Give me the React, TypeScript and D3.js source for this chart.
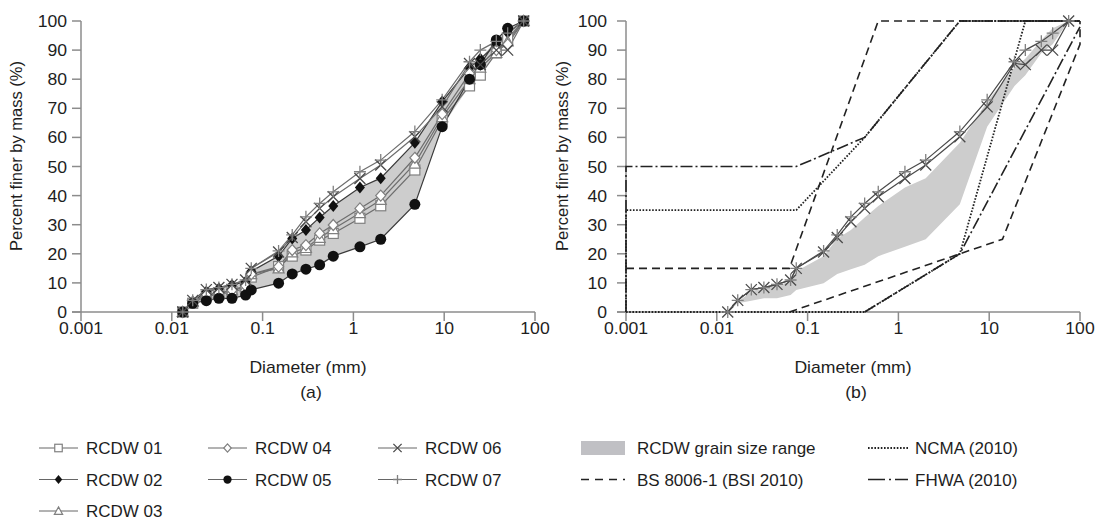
import React from 'react';
import * as d3 from 'd3';

// sieve sizes (mm) and percent passing for each sample
const sieve = [0.0132, 0.017, 0.024, 0.033, 0.046, 0.065, 0.075, 0.15, 0.212, 0.3, 0.425, 0.6, 1.18, 2, 4.75, 9.5, 19, 25, 37.5, 50, 75];
const rcdw01 = [0, 3, 5.5, 6, 7, 8, 12, 15.6, 19.2, 21.3, 24.7, 27, 32.2, 36.5, 48.8, 66, 77.7, 81.4, 89, 94, 100];
const rcdw02 = [0, 3.5, 7, 8.1, 9.3, 10.4, 14, 19.2, 25.3, 28.2, 32.5, 36.4, 42.8, 46, 58.2, 72.3, 84, 87, 92, 96, 100];
const rcdw03 = [0, 3.5, 6, 6.5, 7.5, 8.5, 13, 15, 20.5, 22, 25.5, 28.5, 34, 38.5, 51, 67, 80, 84, 89, 93, 100];
const rcdw04 = [0, 3.5, 6, 6.5, 7.5, 9, 13, 15.6, 21.3, 23, 27, 29.9, 35.6, 40, 53, 68, 82, 85, 90, 92, 100];
const rcdw05 = [0, 3, 3.9, 4.7, 4.7, 5.8, 7.6, 9.9, 13.1, 14.7, 16.2, 19.2, 22.4, 25, 37, 63.7, 80, 85, 93.5, 97.5, 100];
const rcdw06 = [0, 4, 7.7, 8.4, 9.5, 11, 15, 20.6, 25.6, 31, 35.6, 39.6, 45.9, 50.5, 60.2, 70.5, 85.4, 85, 90, 90, 100];
const rcdw07 = [0, 4, 7.7, 8.4, 9.5, 11, 15, 21, 26.5, 32.7, 37.3, 41.3, 48.2, 52.2, 62, 72.9, 86, 90, 93, 95.8, 100];

// grading envelopes (size mm, percent)
const bsUpperD = [0.001, 0.063, 0.6, 100];
const bsUpperP = [15, 15, 100, 100];
const bsLowerD = [0.063, 14, 100, 100];
const bsLowerP = [0, 25, 92, 100];
const ncmaUpperD = [0.001, 0.001, 0.075, 0.425, 4.75, 100];
const ncmaUpperP = [0, 35, 35, 60, 100, 100];
const ncmaLowerD = [0.001, 0.425, 4.75, 25, 100];
const ncmaLowerP = [0, 0, 20, 100, 100];
const fhwaUpperD = [0.001, 0.001, 0.075, 0.425, 4.75, 100];
const fhwaUpperP = [0, 50, 50, 60, 100, 100];
const fhwaLowerD = [0.425, 4.75, 100];
const fhwaLowerP = [0, 20, 98];

const xTicks = [0.001, 0.01, 0.1, 1, 10, 100];
const xTickLabels = ['0.001', '0.01', '0.1', '1', '10', '100'];
const yTicks = [0, 10, 20, 30, 40, 50, 60, 70, 80, 90, 100];

const FONT = '"Liberation Sans", Arial, sans-serif';
const AXIS = '#8c8c8c';
const BAND = '#cdcdcd';

const series = [
  { name: 'RCDW 01', vals: rcdw01, sym: 'square', color: '#808080' },
  { name: 'RCDW 02', vals: rcdw02, sym: 'diamond', color: '#111' },
  { name: 'RCDW 03', vals: rcdw03, sym: 'triangle', color: '#808080' },
  { name: 'RCDW 04', vals: rcdw04, sym: 'odiamond', color: '#808080' },
  { name: 'RCDW 05', vals: rcdw05, sym: 'circle', color: '#111' },
  { name: 'RCDW 06', vals: rcdw06, sym: 'cross', color: '#4a4a4a' },
  { name: 'RCDW 07', vals: rcdw07, sym: 'plus', color: '#808080' },
];

const Marker = ({ x, y, sym, color, s = 1 }) => {
  const k = s;
  switch (sym) {
    case 'square':
      return <rect x={x - 5 * k} y={y - 5 * k} width={10 * k} height={10 * k} fill="white" stroke={color} strokeWidth={1.2} />;
    case 'diamond':
      return <path d={`M${x},${y - 6 * k}L${x + 5 * k},${y}L${x},${y + 6 * k}L${x - 5 * k},${y}Z`} fill={color} />;
    case 'odiamond':
      return <path d={`M${x},${y - 5.5 * k}L${x + 5 * k},${y}L${x},${y + 5.5 * k}L${x - 5 * k},${y}Z`} fill="white" stroke={color} strokeWidth={1.2} />;
    case 'triangle':
      return <path d={`M${x},${y - 5.5 * k}L${x + 5.5 * k},${y + 4.5 * k}L${x - 5.5 * k},${y + 4.5 * k}Z`} fill="white" stroke={color} strokeWidth={1.2} />;
    case 'circle':
      return <circle cx={x} cy={y} r={5.5 * k} fill={color} />;
    case 'cross':
      return <path d={`M${x - 5.5 * k},${y - 5.5 * k}L${x + 5.5 * k},${y + 5.5 * k}M${x - 5.5 * k},${y + 5.5 * k}L${x + 5.5 * k},${y - 5.5 * k}`} stroke={color} strokeWidth={1.3} />;
    case 'plus':
      return <path d={`M${x - 6 * k},${y}L${x + 6 * k},${y}M${x},${y - 6 * k}L${x},${y + 6 * k}`} stroke={color} strokeWidth={1.3} />;
    default:
      return null;
  }
};

const Txt = ({ x, y, anchor = 'middle', size = 16, sx = 1.1, rot = false, children }) => (
  <text
    transform={`translate(${x},${y})${rot ? ' rotate(-90)' : ''} scale(${sx},1)`}
    textAnchor={anchor}
    fontFamily={FONT}
    fontSize={size}
    fill="#1e1e1e"
  >
    {children}
  </text>
);

const Axes = ({ x, y, labelRight, titleX, tag }) => {
  const [x0, x1] = x.range();
  const y0 = y(0);
  return (
    <g>
      <line x1={x0} x2={x0} y1={y(100)} y2={y0} stroke={AXIS} strokeWidth={1.5} />
      <line x1={x0 - 9} x2={x1} y1={y0} y2={y0} stroke={AXIS} strokeWidth={1.5} />
      {yTicks.map((t) => (
        <g key={'y' + t}>
          <line x1={x0 - 9} x2={x0} y1={y(t)} y2={y(t)} stroke={AXIS} strokeWidth={1.5} />
          <Txt x={x0 - labelRight} y={y(t) + 6} anchor="end">{t}</Txt>
        </g>
      ))}
      {xTicks.map((t, i) => (
        <g key={'x' + t}>
          <line x1={x(t)} x2={x(t)} y1={y0} y2={y0 + 9} stroke={AXIS} strokeWidth={1.5} />
          <Txt x={x(t)} y={334}>{xTickLabels[i]}</Txt>
        </g>
      ))}
      <Txt x={(x0 + x1) / 2} y={373}>Diameter (mm)</Txt>
      <Txt x={(x0 + x1) / 2 + 3} y={398}>{tag}</Txt>
      <Txt x={titleX} y={156} rot sx={1} size={16.5}>Percent finer by mass (%)</Txt>
    </g>
  );
};

const App = () => {
  const y = d3.scaleLinear().domain([0, 100]).range([312, 21]);
  const xa = d3.scaleLog().domain([0.001, 100]).range([81, 535]);
  const xb = d3.scaleLog().domain([0.001, 100]).range([626, 1080]);

  const band = (x) =>
    d3.area()
      .x((_, i) => x(sieve[i]))
      .y0((_, i) => y(Math.min(rcdw01[i], rcdw02[i], rcdw03[i], rcdw04[i], rcdw05[i])))
      .y1((_, i) => y(Math.max(rcdw01[i], rcdw02[i], rcdw03[i], rcdw04[i], rcdw05[i])))(sieve);

  const line = (x, vals) => d3.line().x((_, i) => x(sieve[i])).y((v) => y(v))(vals);
  const guide = (ds, ps) => d3.line().x((d) => xb(d)).y((_, i) => y(ps[i]))(ds);

  const DASH = '8,5';
  const DOT = '1.6,1.6';
  const DASHDOT = '12,3,2,3';
  const GC = '#222';

  return (
    <svg width={1095} height={522} style={{ display: 'block', position: 'absolute', left: 0, top: 0, background: 'white' }}>
      {/* (a) */}
      <path d={band(xa)} fill={BAND} />
      <Axes x={xa} y={y} labelRight={14} titleX={22} tag="(a)" />
      {series.map((s) => (
        <path key={s.name} d={line(xa, s.vals)} fill="none" stroke={s.sym === 'circle' || s.sym === 'diamond' ? '#3a3a3a' : '#6e6e6e'} strokeWidth={1.2} />
      ))}
      {series.map((s) => (
        <g key={s.name + 'm'}>
          {s.vals.map((v, i) => (
            <Marker key={i} x={xa(sieve[i])} y={y(v)} sym={s.sym} color={s.color} />
          ))}
        </g>
      ))}

      {/* (b) */}
      <path d={band(xb)} fill={BAND} />
      <Axes x={xb} y={y} labelRight={19} titleX={568} tag="(b)" />
      <path d={guide(ncmaUpperD, ncmaUpperP)} fill="none" stroke={GC} strokeWidth={1.8} strokeDasharray={DOT} />
      <path d={guide(ncmaLowerD, ncmaLowerP)} fill="none" stroke={GC} strokeWidth={1.8} strokeDasharray={DOT} />
      <path d={guide(fhwaUpperD, fhwaUpperP)} fill="none" stroke={GC} strokeWidth={1.6} strokeDasharray={DASHDOT} />
      <path d={guide(fhwaLowerD, fhwaLowerP)} fill="none" stroke={GC} strokeWidth={1.6} strokeDasharray={DASHDOT} />
      <path d={guide(bsUpperD, bsUpperP)} fill="none" stroke={GC} strokeWidth={1.6} strokeDasharray={DASH} />
      <path d={guide(bsLowerD, bsLowerP)} fill="none" stroke={GC} strokeWidth={1.6} strokeDasharray={DASH} />
      {series.filter((s) => s.name === 'RCDW 06' || s.name === 'RCDW 07').map((s) => (
        <g key={s.name + 'b'}>
          <path d={line(xb, s.vals)} fill="none" stroke="#4a4a4a" strokeWidth={1.2} />
          {s.vals.map((v, i) => (
            <Marker key={i} x={xb(sieve[i])} y={y(v)} sym={s.sym} color={s.color} />
          ))}
        </g>
      ))}

      {/* legend */}
      {series.map((s, i) => {
        const col = i < 3 ? 0 : i < 5 ? 1 : 2;
        const row = i < 3 ? i : i < 5 ? i - 3 : i - 5;
        const lx = [39, 208, 378][col];
        const ly = [448, 479.5, 511][row];
        return (
          <g key={s.name + 'l'}>
            <line x1={lx} x2={lx + 39} y1={ly} y2={ly} stroke="#666" strokeWidth={1} />
            <Marker x={lx + 19.5} y={ly} sym={s.sym} color={s.color} s={0.75} />
            <text x={lx + 47} y={ly + 6} fontFamily={FONT} fontSize={17} fill="#1e1e1e">{s.name}</text>
          </g>
        );
      })}
      <rect x={581} y={441} width={44} height={14} fill="#c0c0c4" />
      <text x={637} y={454} fontFamily={FONT} fontSize={17} fill="#1e1e1e">RCDW grain size range</text>
      <line x1={581} x2={625} y1={479.5} y2={479.5} stroke={GC} strokeWidth={1.5} strokeDasharray="8,6" />
      <text x={637} y={485.5} fontFamily={FONT} fontSize={17} fill="#1e1e1e">BS 8006-1 (BSI 2010)</text>
      <line x1={868} x2={908} y1={448} y2={448} stroke={GC} strokeWidth={1.8} strokeDasharray={DOT} />
      <text x={915} y={454} fontFamily={FONT} fontSize={17} fill="#1e1e1e">NCMA (2010)</text>
      <line x1={868} x2={908} y1={479.5} y2={479.5} stroke={GC} strokeWidth={1.5} strokeDasharray="17,4,2,4" />
      <text x={915} y={485.5} fontFamily={FONT} fontSize={17} fill="#1e1e1e">FHWA (2010)</text>
    </svg>
  );
};

export default App;
